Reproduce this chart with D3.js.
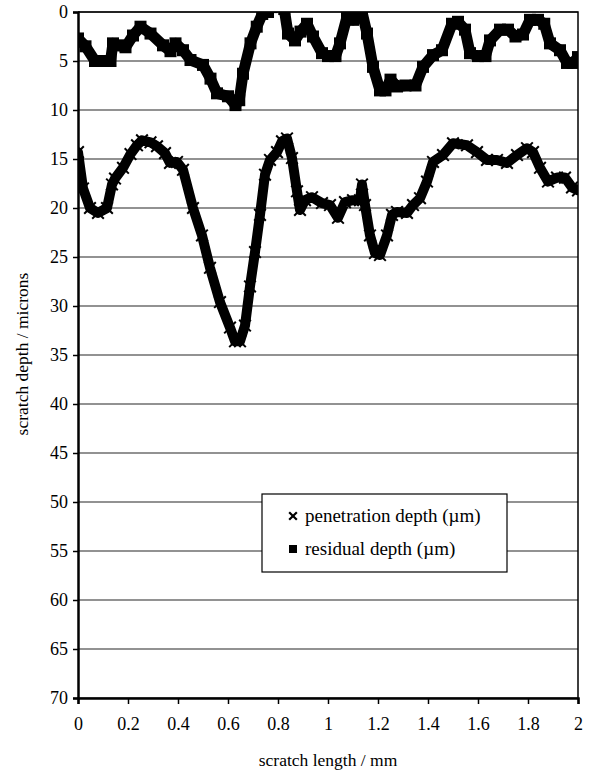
<!DOCTYPE html>
<html>
<head>
<meta charset="utf-8">
<script src="https://cdn.jsdelivr.net/npm/d3@7"></script>
<style>
  body { margin: 0; background: #fff; }
  text { font-family: "Liberation Serif", "Times New Roman", serif; fill: #000; }
</style>
</head>
<body>
<div id="chart"></div>
<script>
var width = 590,
    height = 776;

// ******* data ******* //
var residualLength = [0, 0.03, 0.068, 0.1, 0.13, 0.14, 0.16, 0.19, 0.22, 0.25, 0.29, 0.34, 0.37, 0.39, 0.42, 0.45, 0.5, 0.53, 0.556, 0.6, 0.63, 0.645, 0.66, 0.69, 0.715, 0.737, 0.76, 0.775, 0.8, 0.825, 0.84, 0.868, 0.89, 0.916, 0.94, 0.976, 1.0, 1.03, 1.048, 1.076, 1.1, 1.12, 1.136, 1.156, 1.18, 1.208, 1.23, 1.25, 1.276, 1.31, 1.35, 1.38, 1.42, 1.456, 1.496, 1.52, 1.548, 1.568, 1.6, 1.63, 1.648, 1.688, 1.72, 1.75, 1.78, 1.808, 1.84, 1.865, 1.888, 1.928, 1.956, 1.98, 2.0];
var residualDepth = [2.7, 3.5, 5.0, 5.0, 5.0, 3.2, 3.4, 3.6, 2.4, 1.5, 2.2, 3.4, 4.0, 3.2, 3.9, 4.9, 5.4, 6.8, 8.3, 8.6, 9.5, 9.0, 6.3, 3.2, 1.5, 0.2, 0.0, -0.5, -2, -0.3, 2.2, 2.9, 2.0, 1.2, 2.5, 4.2, 4.5, 4.5, 3.2, 0.5, 0.8, 0.3, 0.0, 2.2, 5.6, 8.0, 8.0, 6.9, 7.6, 7.5, 7.5, 5.6, 4.4, 3.9, 1.2, 1.0, 1.8, 4.2, 4.5, 4.5, 2.9, 1.8, 1.8, 2.5, 2.3, 0.8, 0.8, 1.2, 3.2, 3.9, 5.2, 5.2, 4.6];

var penetrationLength = [0, 0.02, 0.048, 0.08, 0.116, 0.136, 0.148, 0.18, 0.21, 0.236, 0.256, 0.29, 0.316, 0.348, 0.368, 0.396, 0.42, 0.46, 0.496, 0.528, 0.568, 0.608, 0.628, 0.648, 0.668, 0.688, 0.708, 0.728, 0.748, 0.768, 0.796, 0.816, 0.836, 0.856, 0.876, 0.888, 0.908, 0.936, 0.976, 1.008, 1.04, 1.068, 1.1, 1.128, 1.136, 1.148, 1.168, 1.188, 1.208, 1.236, 1.256, 1.276, 1.316, 1.34, 1.368, 1.396, 1.42, 1.46, 1.5, 1.556, 1.596, 1.636, 1.676, 1.716, 1.756, 1.796, 1.82, 1.848, 1.88, 1.916, 1.948, 1.976, 2.0];
var penetrationDepth = [14.3, 18, 20, 20.5, 20, 17.6, 17, 15.9, 14.5, 13.6, 13.1, 13.3, 13.7, 14.4, 15.4, 15.3, 16.1, 20, 22.8, 26.1, 29.6, 32.2, 33.6, 33.6, 32, 28, 24.5, 20.7, 16.6, 15.1, 14.3, 13.2, 12.9, 14.9, 18.3, 20.2, 19.2, 18.9, 19.5, 19.7, 21, 19.4, 19.2, 19.2, 17.6, 19.7, 22.8, 24.6, 24.8, 22.8, 20.7, 20.4, 20.5, 19.7, 19, 17.3, 15.3, 14.6, 13.4, 13.6, 14.3, 15.1, 15.1, 15.4, 14.6, 13.9, 14.3, 15.9, 17.3, 16.9, 16.9, 17.9, 18.2];

var xTicks = [0, 0.2, 0.4, 0.6, 0.8, 1, 1.2, 1.4, 1.6, 1.8, 2];
var yTicks = d3.range(0, 71, 5);
var legendLabels = ["penetration depth (\u00b5m)", "residual depth (\u00b5m)"];

var margin = {top: 12, right: 12, bottom: 78, left: 78};
var plotW = width - margin.left - margin.right,
    plotH = height - margin.top - margin.bottom;

var svg = d3.select("#chart")
    .append("svg")
    .attr("width", width)
    .attr("height", height);

var x = d3.scaleLinear().domain([0, 2]).range([margin.left, margin.left + plotW]);
var y = d3.scaleLinear().domain([0, 70]).range([margin.top, margin.top + plotH]);

svg.append("clipPath").attr("id", "plot-clip")
    .append("rect")
    .attr("x", margin.left).attr("y", margin.top)
    .attr("width", plotW).attr("height", plotH);

// ******* gridlines ******* //
svg.append("g").selectAll("line")
    .data(yTicks)
    .enter().append("line")
    .attr("x1", margin.left).attr("x2", margin.left + plotW)
    .attr("y1", function(d) { return y(d); })
    .attr("y2", function(d) { return y(d); })
    .attr("stroke", "#6e6e6e")
    .attr("stroke-width", 1.5);

// plot frame (top/right)
svg.append("path")
    .attr("d", "M" + margin.left + "," + margin.top + "H" + (margin.left + plotW) + "V" + (margin.top + plotH))
    .attr("fill", "none")
    .attr("stroke", "#000")
    .attr("stroke-width", 1.5);

// ******* axes ******* //
var yAxis = d3.axisLeft(y).tickValues(yTicks).tickSize(5).tickPadding(5);
var gy = svg.append("g")
    .attr("transform", "translate(" + margin.left + ",0)")
    .call(yAxis);

var xAxis = d3.axisBottom(x).tickValues(xTicks).tickSize(6).tickPadding(13)
    .tickFormat(function(d) { return String(d); });
var gx = svg.append("g")
    .attr("transform", "translate(0," + (margin.top + plotH) + ")")
    .call(xAxis);

[gx, gy].forEach(function(g) {
    g.select(".domain").attr("stroke", "#000").attr("stroke-width", 2.5);
    g.selectAll(".tick line").attr("stroke", "#000").attr("stroke-width", 1.5);
    g.selectAll(".tick text")
        .style("font-family", "'Liberation Serif', 'Times New Roman', serif")
        .style("font-size", "18px")
        .attr("fill", "#000");
});

// axis titles
svg.append("text")
    .attr("x", margin.left + plotW / 2)
    .attr("y", 766)
    .attr("text-anchor", "middle")
    .style("font-size", "17.5px")
    .text("scratch length / mm");

svg.append("text")
    .attr("transform", "translate(28," + (margin.top + 342) + ") rotate(-90)")
    .attr("text-anchor", "middle")
    .style("font-size", "17.5px")
    .text("scratch depth / microns");

// ******* series ******* //
var line = d3.line()
    .x(function(d) { return x(d[0]); })
    .y(function(d) { return y(d[1]); });

var residual = residualLength.map(function(d, i) { return [d, residualDepth[i]]; });
var penetration = penetrationLength.map(function(d, i) { return [d, penetrationDepth[i]]; });

var series = svg.append("g").attr("clip-path", "url(#plot-clip)");

series.append("path")
    .datum(residual)
    .attr("fill", "none")
    .attr("stroke", "#000")
    .attr("stroke-width", 11)
    .attr("stroke-linejoin", "round")
    .attr("stroke-linecap", "round")
    .attr("d", line);

series.selectAll("rect.res")
    .data(residual)
    .enter().append("rect")
    .attr("class", "res")
    .attr("x", function(d) { return x(d[0]) - 6; })
    .attr("y", function(d) { return y(d[1]) - 6; })
    .attr("width", 12).attr("height", 12)
    .attr("fill", "#000");

series.append("path")
    .datum(penetration)
    .attr("fill", "none")
    .attr("stroke", "#000")
    .attr("stroke-width", 10)
    .attr("stroke-linejoin", "round")
    .attr("stroke-linecap", "round")
    .attr("d", line);

var cross = d3.symbol().type(d3.symbolX).size(90);
series.selectAll("path.pen")
    .data(penetration)
    .enter().append("path")
    .attr("class", "pen")
    .attr("d", cross)
    .attr("transform", function(d) { return "translate(" + x(d[0]) + "," + y(d[1]) + ")"; })
    .attr("fill", "none")
    .attr("stroke", "#000")
    .attr("stroke-width", 2);

// ******* legend ******* //
var legend = svg.append("g").attr("transform", "translate(262,494)");
legend.append("rect")
    .attr("width", 245).attr("height", 78)
    .attr("fill", "#fff")
    .attr("stroke", "#000")
    .attr("stroke-width", 1.2);

var items = legend.selectAll("g.item")
    .data(legendLabels)
    .enter().append("g")
    .attr("class", "item")
    .attr("transform", function(d, i) { return "translate(0," + (22 + i * 33) + ")"; });

items.filter(function(d, i) { return i === 0; })
    .append("path")
    .attr("d", d3.symbol().type(d3.symbolX).size(40))
    .attr("transform", "translate(31,0)")
    .attr("stroke", "#000")
    .attr("stroke-width", 2.2);

items.filter(function(d, i) { return i === 1; })
    .append("rect")
    .attr("x", 27).attr("y", -4)
    .attr("width", 8).attr("height", 8)
    .attr("fill", "#000");

items.append("text")
    .attr("x", 43)
    .attr("y", 6)
    .style("font-size", "19px")
    .text(function(d) { return d; });
</script>
</body>
</html>
